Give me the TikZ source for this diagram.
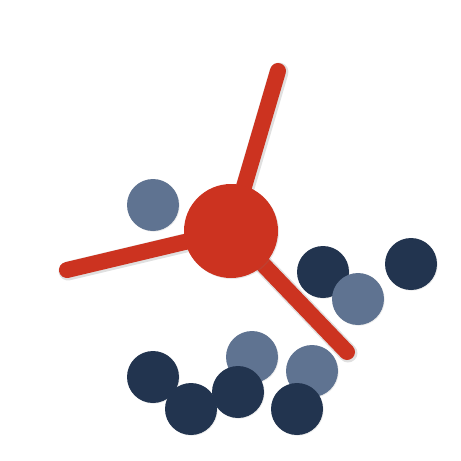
\documentclass[tikz,border=0pt]{standalone}
\usepackage{xcolor}
\usepackage{tikz}
\usetikzlibrary{shadows}

\definecolor{hubred}{HTML}{CC3320}
\definecolor{slate}{HTML}{5F7391}
\definecolor{navy}{HTML}{22344F}

\begin{document}
\begin{tikzpicture}[
    x=1pt, y=-1pt,
    arm/.style={draw=hubred, line width=16pt, line cap=round,
        preaction={draw=black, opacity=0.12, line width=19pt, line cap=round, transform canvas={shift={(1pt,-1pt)}}}},
    hub/.style={circle, fill=hubred, minimum size=94pt, inner sep=0pt,
        drop shadow={opacity=0.18, shadow xshift=1pt, shadow yshift=-1pt}},
    atom/.style={circle, minimum size=52pt, inner sep=0pt,
        drop shadow={opacity=0.15, shadow xshift=0.8pt, shadow yshift=-0.8pt}},
    light/.style={atom, fill=slate},
    dark/.style={atom, fill=navy},
]
\useasboundingbox (0,0) rectangle (461,461);

% Arms of the hub
\coordinate (core) at (231,231);
\coordinate (tipN) at (278,71);
\coordinate (tipW) at (67,270);
\coordinate (tipSE) at (347,352);
\draw[arm] (core) -- (tipN);
\draw[arm] (core) -- (tipW);
\draw[arm] (core) -- (tipSE);

% Hub
\node[hub] (centre) at (231,231) {};

% Particles, back to front
\node[light] (l1) at (153,205) {};
\node[dark] (d1) at (323,272) {};
\node[light] (l2) at (358,299) {};
\node[dark] (d2) at (411,264) {};
\node[light] (l3) at (252,357) {};
\node[light] (l4) at (312,371) {};
\node[dark] (d3) at (153,377) {};
\node[dark] (d4) at (191,409) {};
\node[dark] (d5) at (238,392) {};
\node[dark] (d6) at (297,409) {};

\end{tikzpicture}
\end{document}
